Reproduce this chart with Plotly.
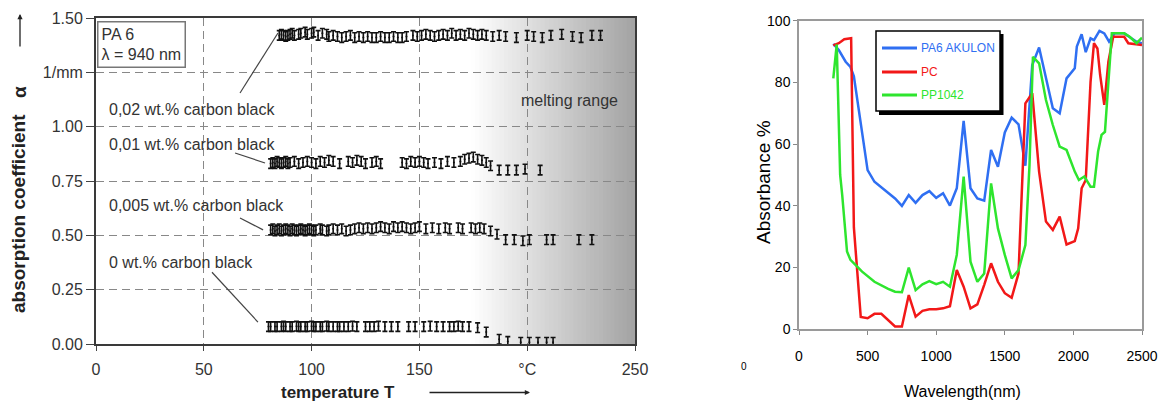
import plotly.graph_objects as go

W, H = 1162, 405

# ---- left panel: PA 6, absorption coefficient vs temperature (lambda = 940 nm)
t_002 = [85, 86, 87, 88, 89, 90, 91, 92, 94, 95, 97, 98, 100, 101, 103, 105, 107, 108, 110, 112,
         114, 116, 118, 120, 122, 124, 126, 128, 130, 132, 134, 136, 138, 140, 142, 144, 147, 149,
         151, 153, 155, 157, 159, 161, 163, 165, 167, 169, 171, 173, 175, 177, 179, 181, 184, 187,
         190, 195, 200, 203, 207, 211, 216, 221, 225, 230, 234]
a_002 = [1.42, 1.425, 1.42, 1.415, 1.42, 1.425, 1.43, 1.42, 1.425, 1.43, 1.435, 1.425, 1.43, 1.435,
         1.42, 1.43, 1.425, 1.415, 1.42, 1.415, 1.41, 1.415, 1.42, 1.41, 1.415, 1.41, 1.415, 1.41,
         1.41, 1.415, 1.41, 1.41, 1.415, 1.41, 1.41, 1.415, 1.42, 1.415, 1.42, 1.425, 1.42, 1.415,
         1.42, 1.425, 1.42, 1.43, 1.42, 1.425, 1.42, 1.43, 1.425, 1.42, 1.425, 1.42, 1.415, 1.42,
         1.415, 1.41, 1.42, 1.415, 1.41, 1.42, 1.425, 1.415, 1.41, 1.42, 1.42]

t_001 = [81, 82, 83, 84, 85, 86, 87, 88, 89, 90, 92, 94, 96, 98, 100, 102, 104, 106, 108, 110,
         113, 117, 119, 121, 123, 125, 128, 130, 132, 142, 144, 146, 148, 150, 152, 154, 157, 160,
         163, 166, 169, 171, 173, 175, 177, 179, 181, 183, 187, 191, 195, 199, 206]
a_001 = [0.83, 0.835, 0.83, 0.84, 0.835, 0.83, 0.835, 0.84, 0.83, 0.835, 0.84, 0.83, 0.835, 0.84,
         0.835, 0.83, 0.84, 0.835, 0.845, 0.84, 0.83, 0.84, 0.835, 0.845, 0.84, 0.83, 0.835, 0.84,
         0.83, 0.835, 0.83, 0.84, 0.835, 0.84, 0.835, 0.83, 0.835, 0.83, 0.84, 0.835, 0.84, 0.85,
         0.855, 0.86, 0.85, 0.845, 0.835, 0.82, 0.80, 0.80, 0.80, 0.805, 0.80]

t_0005 = [81, 82, 83, 84, 85, 86, 87, 88, 89, 90, 91, 92, 93, 94, 95, 96, 97, 98, 99, 100, 101,
          102, 104, 105, 107, 108, 110, 112, 114, 116, 118, 120, 122, 124, 126, 128, 130, 132,
          134, 136, 138, 140, 142, 144, 146, 148, 150, 153, 156, 159, 162, 164, 168, 170, 174,
          176, 178, 180, 183, 186, 190, 194, 198, 201, 209, 212, 224, 230]
a_0005 = [0.525, 0.53, 0.52, 0.525, 0.53, 0.52, 0.525, 0.53, 0.525, 0.52, 0.53, 0.525, 0.52,
          0.525, 0.53, 0.525, 0.52, 0.525, 0.53, 0.525, 0.52, 0.525, 0.53, 0.525, 0.52, 0.525,
          0.53, 0.525, 0.53, 0.52, 0.525, 0.53, 0.535, 0.53, 0.535, 0.53, 0.535, 0.54, 0.535, 0.53,
          0.54, 0.535, 0.54, 0.535, 0.53, 0.535, 0.54, 0.53, 0.535, 0.53, 0.535, 0.53, 0.535, 0.53,
          0.535, 0.53, 0.535, 0.53, 0.52, 0.505, 0.48, 0.48, 0.475, 0.48, 0.48, 0.48, 0.48, 0.48]

t_000 = [80, 81, 83, 84, 86, 87, 88, 90, 91, 93, 94, 95, 97, 98, 100, 101, 102, 104, 105, 107,
         108, 110, 112, 113, 115, 117, 119, 121, 125, 127, 129, 131, 134, 137, 140, 145, 148, 152,
         155, 158, 161, 164, 166, 168, 170, 173, 177, 181, 187, 191, 197, 201, 205, 209, 212]
a_000 = [0.08, 0.08, 0.08, 0.08, 0.08, 0.082, 0.08, 0.08, 0.08, 0.082, 0.08, 0.08, 0.08, 0.08,
         0.082, 0.08, 0.08, 0.08, 0.08, 0.082, 0.08, 0.08, 0.08, 0.08, 0.08, 0.08, 0.082, 0.08,
         0.08, 0.08, 0.08, 0.082, 0.08, 0.08, 0.08, 0.08, 0.08, 0.08, 0.082, 0.08, 0.08, 0.08,
         0.08, 0.082, 0.08, 0.08, 0.075, 0.055, 0.022, 0.012, 0.008, 0.008, 0.008, 0.008, 0.008]

left_series = [
    ("0,02 wt.% carbon black", t_002, a_002),
    ("0,01 wt.% carbon black", t_001, a_001),
    ("0,005 wt.% carbon black", t_0005, a_0005),
    ("0 wt.% carbon black", t_000, a_000),
]

temp_ticks = [0, 50, 100, 150, 200, 250]
temp_ticktext = ["0", "50", "100", "150", "°C", "250"]
alpha_ticks = [0, 0.25, 0.5, 0.75, 1.0, 1.25, 1.5]
alpha_ticktext = ["0.00", "0.25", "0.50", "0.75", "1.00", "1/mm", "1.50"]

# ---- right panel: absorbance spectra
wl_pa6 = [250, 290, 340, 375, 400, 450, 500, 550, 600, 650, 700, 750, 800, 850, 900, 950, 1000,
          1050, 1100, 1150, 1200, 1250, 1300, 1350, 1400, 1450, 1500, 1550, 1600, 1650, 1700,
          1750, 1800, 1850, 1900, 1950, 2010, 2025, 2060, 2090, 2125, 2150, 2190, 2225, 2260,
          2300, 2370, 2460, 2500]
ab_pa6 = [92.5, 90.5, 86.7, 85, 82, 66, 51.6, 47.8, 46, 44.4, 42.4, 40, 43.5, 41, 43.5, 44.8,
          42.6, 44.1, 40.1, 45.7, 67.5, 45.7, 42.4, 41.7, 58.1, 52.7, 63.8, 68.6, 66.4, 53,
          85.6, 91.3, 81.3, 71.6, 70, 81.3, 84.6, 91.6, 95.6, 89.8, 94.3, 93.7, 96.7, 95.9, 93.2,
          95.9, 95.9, 93.2, 92.7]

wl_pc = [250, 290, 330, 380, 400, 450, 500, 550, 600, 650, 700, 750, 800, 850, 900, 950, 1000,
         1050, 1100, 1150, 1200, 1250, 1300, 1350, 1400, 1450, 1500, 1550, 1600, 1650, 1700,
         1750, 1800, 1850, 1900, 1950, 2010, 2035, 2060, 2090, 2125, 2150, 2175, 2195, 2225,
         2255, 2290, 2370, 2400, 2500]
ab_pc = [92, 92.7, 94, 94.3, 33, 4, 3.6, 5, 5, 3, 0.9, 0.9, 11.1, 4.1, 6, 6.5, 6.5, 6.8, 7.5,
         19.2, 13.8, 6.8, 8.1, 14.4, 21.4, 15.4, 11.7, 10.2, 18.1, 73.2, 76.5, 51.1, 34.9, 32.2,
         36.5, 27.5, 28.6, 32.7, 45.7, 48.4, 80.2, 92.7, 91, 82.4, 72.7, 86.7, 94.8, 94.8, 92.7,
         92.1]

wl_pp = [250, 275, 300, 315, 350, 375, 460, 550, 650, 700, 750, 800, 850, 900, 950, 1000, 1050,
         1100, 1150, 1200, 1250, 1300, 1350, 1400, 1450, 1500, 1550, 1600, 1650, 1680, 1705,
         1750, 1800, 1850, 1900, 1950, 2010, 2040, 2080, 2125, 2150, 2180, 2205, 2230, 2280,
         2370, 2410, 2460, 2500]
ab_pp = [81.3, 92.3, 50, 43.5, 25.2, 22.5, 18.7, 15.4, 13.1, 12.2, 12, 20, 12.7, 14.6, 15.6,
         14.6, 15.4, 13.8, 24.1, 49.5, 21.9, 15.4, 18.1, 47.3, 32.7, 24.1, 16.5, 19.2, 27.3, 53.2,
         88.3, 86.2, 74.3, 66.2, 59.2, 58.1, 51.1, 48.4, 49.5, 46.2, 46.2, 57.6, 63, 64, 95.9,
         95.9, 94.8, 92.7, 94.5]

right_series = [
    ("PA6 AKULON", wl_pa6, ab_pa6, "#2f6ff2"),
    ("PC", wl_pc, ab_pc, "#f21818"),
    ("PP1042", wl_pp, ab_pp, "#2ee52e"),
]


def px(x):
    return x / W


def py(y):
    return 1 - y / H


LEFT_FONT = "Liberation Sans, Arial, sans-serif"
RIGHT_FONT = "Liberation Sans, Arial, sans-serif"

fig = go.Figure()

for name, t, a in left_series:
    fig.add_trace(go.Scatter(
        x=t, y=a, mode="markers", name=name, xaxis="x", yaxis="y",
        marker=dict(size=2, color="#111"),
        error_y=dict(type="constant", value=0.022, thickness=1.6, width=2.5, color="#111"),
        showlegend=False,
    ))

for name, wl, ab, color in right_series:
    fig.add_trace(go.Scatter(
        x=wl, y=ab, mode="lines", name=name, xaxis="x2", yaxis="y2",
        line=dict(color=color, width=2.5), showlegend=False,
    ))

shapes = []
# melting range shading (grey gradient towards the right edge)
g0, g1 = 174, 250
steps = 40
for i in range(steps):
    x0 = g0 + (g1 - g0) * i / steps
    x1 = g0 + (g1 - g0) * (i + 1) / steps
    v = int(round(255 - 92 * (i + 0.5) / steps))
    shapes.append(dict(type="rect", xref="x", yref="y", x0=x0, x1=x1 + 0.3, y0=0, y1=1.5,
                       fillcolor=f"rgb({v},{v},{v})", line=dict(width=0), layer="below"))

# leader lines from labels to series
leaders = [((66.8, 1.155), (84.4, 1.431)), ((64.5, 0.879), (78.4, 0.833)),
           ((66.8, 0.58), (77.5, 0.525)), ((53.8, 0.33), (75.1, 0.101))]
for (xa, ya), (xb, yb) in leaders:
    shapes.append(dict(type="line", xref="x", yref="y", x0=xa, y0=ya, x1=xb, y1=yb,
                       line=dict(color="#444", width=1.2)))

# manual legend for the spectra panel
shapes.append(dict(type="rect", xref="paper", yref="paper", x0=px(879), x1=px(1003.5),
                   y0=py(115), y1=py(34), fillcolor="#000", line=dict(width=0)))
shapes.append(dict(type="rect", xref="paper", yref="paper", x0=px(876), x1=px(1000),
                   y0=py(111), y1=py(31), fillcolor="#fff", line=dict(color="#000", width=1.5)))

annotations = []
legend_y = [48, 72, 95]
for (name, _, _, color), ly in zip(right_series, legend_y):
    shapes.append(dict(type="line", xref="paper", yref="paper", x0=px(882), x1=px(917),
                       y0=py(ly), y1=py(ly), line=dict(color=color, width=3)))
    annotations.append(dict(xref="paper", yref="paper", x=px(919), y=py(ly), text=name,
                            showarrow=False, xanchor="left", yanchor="middle",
                            font=dict(family=RIGHT_FONT, size=12, color=color)))

lab_font = dict(family=LEFT_FONT, size=16, color="#333")
label_pos = [("0,02 wt.% carbon black", 1.077), ("0,01 wt.% carbon black", 0.916),
             ("0,005 wt.% carbon black", 0.635), ("0 wt.% carbon black", 0.377)]
for txt, yv in label_pos:
    annotations.append(dict(xref="x", yref="y", x=5.2, y=yv, text=txt, showarrow=False,
                            xanchor="left", yanchor="middle", font=lab_font))

annotations += [
    dict(xref="paper", yref="paper", x=px(97), y=py(21), text="PA 6<br>λ = 940 nm",
         showarrow=False, xanchor="left", yanchor="top", align="left", font=lab_font,
         bordercolor="#777", borderwidth=1.5, borderpad=3, bgcolor="#fff"),
    dict(xref="paper", yref="paper", x=px(620), y=py(100), text="melting range",
         showarrow=False, xanchor="right", yanchor="middle", font=lab_font),
    # axis titles of the left panel
    dict(xref="paper", yref="paper", x=px(19), y=py(214), text="<b>absorption coefficient</b>",
         showarrow=False, textangle=-90, xanchor="center", yanchor="middle",
         font=dict(family=LEFT_FONT, size=19, color="#222")),
    dict(xref="paper", yref="paper", x=px(19), y=py(92), text="<b>α</b>",
         showarrow=False, textangle=-90, xanchor="center", yanchor="middle",
         font=dict(family=LEFT_FONT, size=19, color="#222")),
    dict(xref="paper", yref="paper", x=px(20), y=py(14), ax=0, ay=34, text="",
         showarrow=True, arrowhead=2, arrowsize=0.8, arrowwidth=1.3, arrowcolor="#222"),
    dict(xref="paper", yref="paper", x=px(338), y=py(392), text="<b>temperature T</b>",
         showarrow=False, xanchor="center", yanchor="middle",
         font=dict(family=LEFT_FONT, size=17, color="#222")),
    dict(xref="paper", yref="paper", x=px(530), y=py(392.5), ax=-102, ay=0, text="",
         showarrow=True, arrowhead=2, arrowsize=0.8, arrowwidth=1.3, arrowcolor="#222"),
    # axis titles of the right panel
    dict(xref="paper", yref="paper", x=px(962), y=py(391), text="Wavelength(nm)",
         showarrow=False, xanchor="center", yanchor="middle",
         font=dict(family=RIGHT_FONT, size=16, color="#000")),
    dict(xref="paper", yref="paper", x=px(763), y=py(182), text="Absorbance %",
         showarrow=False, textangle=-90, xanchor="center", yanchor="middle",
         font=dict(family=RIGHT_FONT, size=19, color="#000")),
    dict(xref="paper", yref="paper", x=px(744), y=py(366), text="0",
         showarrow=False, xanchor="center", yanchor="middle",
         font=dict(family=RIGHT_FONT, size=10, color="#000")),
]

grid = dict(showgrid=True, gridcolor="#888", gridwidth=1.3, griddash="8px,5px")

fig.update_layout(
    width=W, height=H,
    margin=dict(l=0, r=0, t=0, b=0),
    paper_bgcolor="#fff", plot_bgcolor="#fff",
    showlegend=False,
    shapes=shapes,
    annotations=annotations,
    xaxis=dict(domain=[px(96), px(635)], range=[0, 250], anchor="y", automargin=False,
               tickvals=temp_ticks, ticktext=temp_ticktext, ticks="outside", ticklen=5,
               tickcolor="#444", showline=True, mirror=True, linecolor="#3a3a3a", linewidth=2,
               zeroline=False, tickfont=dict(family=LEFT_FONT, size=16, color="#333"),
               ticklabelstandoff=5, **grid),
    yaxis=dict(domain=[py(344), py(18)], range=[0, 1.5], anchor="x", automargin=False,
               tickvals=alpha_ticks, ticktext=alpha_ticktext, ticks="outside", ticklen=8,
               tickcolor="#444", showline=True, mirror=True, linecolor="#3a3a3a", linewidth=2,
               zeroline=False, tickfont=dict(family=LEFT_FONT, size=16, color="#333"),
               **grid),
    xaxis2=dict(domain=[px(799), px(1142)], range=[0, 2500], anchor="y2", dtick=500,
                automargin=False,
                ticks="outside", ticklen=4, tickcolor="#888", showline=True, mirror=True,
                linecolor="#9a9a9a", linewidth=1.5, showgrid=False, zeroline=False,
                tickfont=dict(family=RIGHT_FONT, size=14, color="#000"),
                ticklabelstandoff=9),
    yaxis2=dict(domain=[py(329.3), py(20.7)], range=[0, 100], anchor="x2", dtick=20,
                automargin=False,
                ticks="outside", ticklen=4, tickcolor="#888", showline=True, mirror=True,
                linecolor="#9a9a9a", linewidth=1.5, showgrid=False, zeroline=False,
                tickfont=dict(family=RIGHT_FONT, size=14, color="#000")),
)

# drop the default page margin so the figure fills the window exactly
fig.write_html("out.html", config={"displayModeBar": False},
               post_script="document.body.style.margin = '0';")
